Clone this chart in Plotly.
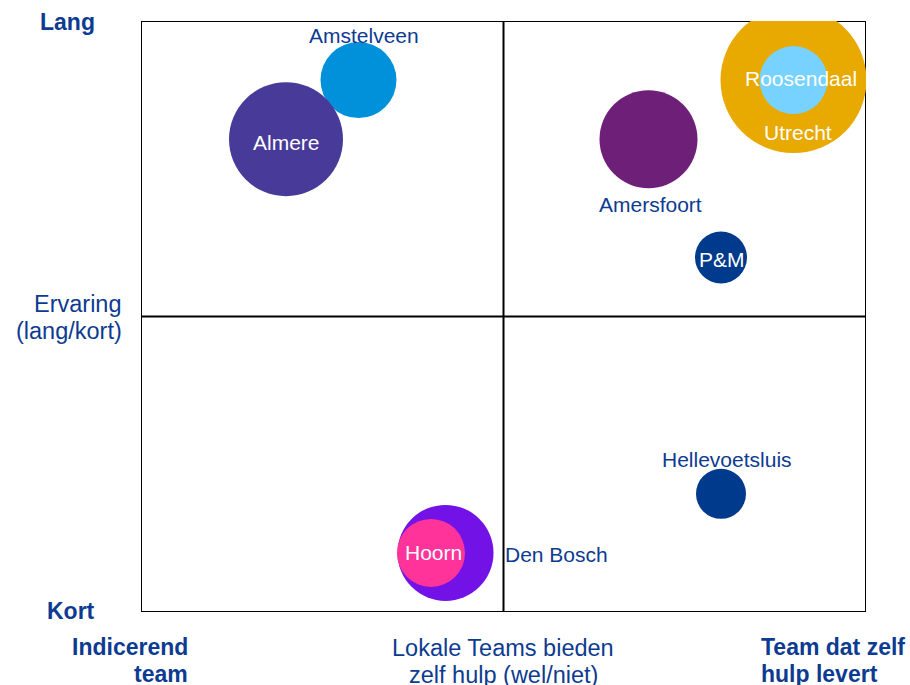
import plotly.graph_objects as go

# Data (quadrant scores 0-10, bubble size as diameter)
teams = ["Amstelveen", "Almere", "Amersfoort", "Utrecht", "Roosendaal", "P&M",
         "Hellevoetsluis", "Den Bosch", "Hoorn"]
zelf_hulp = [3.0, 2.0, 7.0, 9.0, 9.0, 8.0, 8.0, 4.2, 4.0]
ervaring = [9.0, 8.0, 8.0, 9.0, 9.0, 6.0, 2.0, 1.0, 1.0]
omvang = [76, 114, 98, 146, 68, 52, 50, 96, 68]
kleuren = ["#0091DA", "#473A99", "#6E1F78", "#E8A900", "#78D2FF", "#003A8C",
           "#003A8C", "#7212E6", "#FF3399"]

DARK = "#0D3B91"
FONT = "Liberation Sans, Arial, sans-serif"

# label styling: (xshift, yshift, xanchor, colour)
label_style = {"Amstelveen": (5, 45, "center", DARK), "Almere": (0, -3, "center", "white"),
               "Amersfoort": (2, -65, "center", DARK), "Utrecht": (4, -52, "center", "white"),
               "Roosendaal": (7, 2, "center", "white"), "P&M": (1, -2, "center", "white"),
               "Hellevoetsluis": (6, 34, "center", DARK), "Den Bosch": (57, -2, "left", DARK),
               "Hoorn": (2, 0, "center", "white")}

fig = go.Figure()
fig.add_trace(go.Scatter(
    x=zelf_hulp, y=ervaring, mode="markers", text=teams,
    marker=dict(size=omvang, sizemode="diameter", sizeref=1, color=kleuren,
                opacity=1, line=dict(width=0)),
    cliponaxis=True, hoverinfo="text", showlegend=False))

for t, xv, yv in zip(teams, zelf_hulp, ervaring):
    xs, ys, xa, col = label_style[t]
    fig.add_annotation(x=xv, y=yv, text=t, showarrow=False, xshift=xs, yshift=ys,
                       xanchor=xa, yanchor="middle",
                       font=dict(family=FONT, size=21, color=col))

# quadrant box and midlines
fig.add_shape(type="rect", x0=0, x1=10, y0=0, y1=10, line=dict(color="black", width=2), layer="below")
fig.add_shape(type="line", x0=5, x1=5, y0=0, y1=10, line=dict(color="black", width=2), layer="below")
fig.add_shape(type="line", x0=0, x1=10, y0=5, y1=5, line=dict(color="black", width=2), layer="below")

W, H = 910, 685
L, R, T, B = 141, 866, 21, 612
def px(xp):
    return (xp - L) / (R - L)
def py(yp):
    return (B - yp) / (B - T)

def ann(x, y, text, bold=False, xanchor="center"):
    fig.add_annotation(xref="paper", yref="paper", x=px(x), y=py(y),
                       text=f"<b>{text}</b>" if bold else text,
                       showarrow=False, xanchor=xanchor, yanchor="middle",
                       font=dict(family=FONT, size=23 if bold else 23.5, color=DARK))

ann(67, 22, "Lang", bold=True)
ann(124, 304, "Ervaring", xanchor="right")
ann(124, 331, "(lang/kort)", xanchor="right")
ann(71, 611, "Kort", bold=True)
ann(190, 647, "Indicerend", bold=True, xanchor="right")
ann(190, 674, "team", bold=True, xanchor="right")
ann(503, 648, "Lokale Teams bieden")
ann(503, 675, "zelf hulp (wel/niet)")
ann(759, 647, "Team dat zelf", bold=True, xanchor="left")
ann(759, 674, "hulp levert", bold=True, xanchor="left")

fig.update_layout(
    width=W, height=H, margin=dict(l=L, r=W - R, t=T, b=H - B),
    paper_bgcolor="white", plot_bgcolor="white",
    xaxis=dict(range=[0, 10], visible=False, fixedrange=True),
    yaxis=dict(range=[0, 10], visible=False, fixedrange=True),
)
fig.write_html("out.html", config={"displayModeBar": False},
               post_script="document.body.style.margin='0';document.body.style.overflow='hidden';")
